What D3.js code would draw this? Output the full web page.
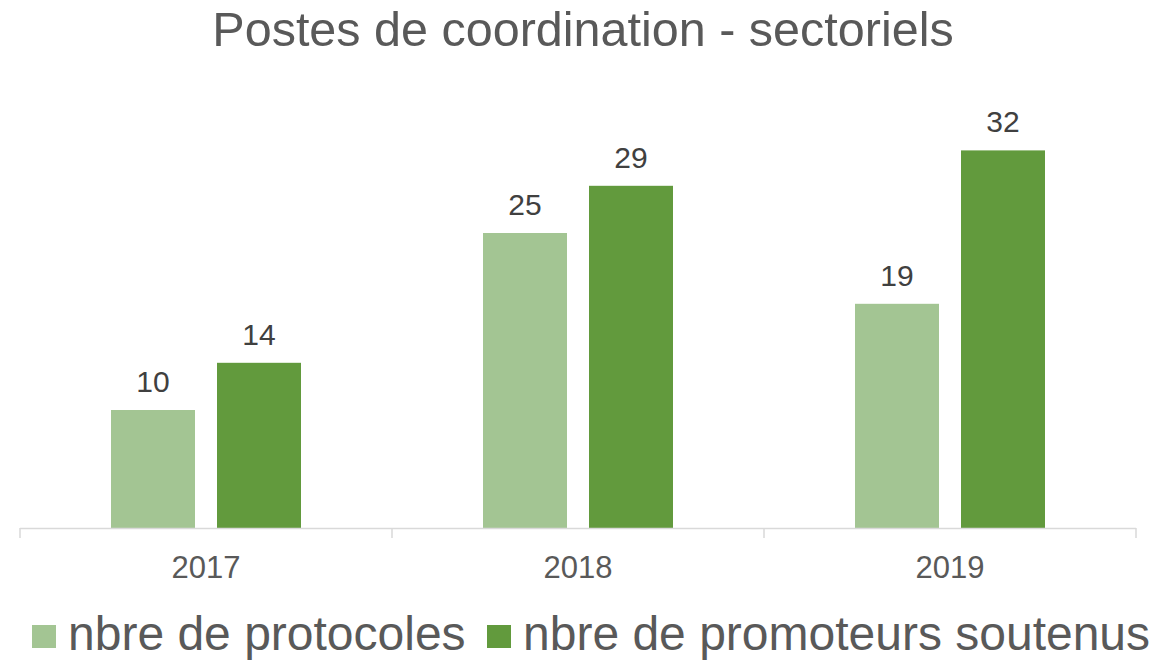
<!DOCTYPE html>
<html>
<head>
<meta charset="utf-8">
<script src="https://cdn.jsdelivr.net/npm/d3@7"></script>
<style>
  body { margin: 0; background: #fff; }
  text { font-family: "Liberation Sans", Arial, sans-serif; }
</style>
</head>
<body>
<svg id="canvas"></svg>
<script>
let years = ['2017', '2018', '2019']
let protocoles = [10, 25, 19]
let promoteurs = [14, 29, 32]
let seriesNames = ['nbre de protocoles', 'nbre de promoteurs soutenus']
let colors = ['#a3c593', '#629a3d']

let width = 1173
let height = 660

let canvas = d3.select('#canvas')
canvas.attr('width', width)
      .attr('height', height)

let rows = years.map((y, i) => ({ year: y, values: [protocoles[i], promoteurs[i]] }))

/*scales*/
let xScale = d3.scaleBand()
               .domain(years)
               .range([20, 1136])

let innerScale = d3.scaleBand()
                   .domain([0, 1])
                   .range([91, 281])
                   .paddingInner(22 / 106)

let yScale = d3.scaleLinear()
               .domain([0, 35])
               .range([528, 115])

/*title*/
canvas.append('text')
      .attr('x', 583)
      .attr('y', 46)
      .attr('text-anchor', 'middle')
      .attr('font-size', 48.5)
      .attr('fill', '#595959')
      .text('Postes de coordination - sectoriels')

/*bars*/
let groups = canvas.selectAll('g.year')
    .data(rows)
    .enter()
    .append('g')
    .attr('class', 'year')
    .attr('transform', (d) => 'translate(' + xScale(d.year) + ',0)')

groups.selectAll('rect')
    .data((d) => d.values)
    .enter()
    .append('rect')
    .attr('x', (v, i) => innerScale(i))
    .attr('y', (v) => yScale(v))
    .attr('width', innerScale.bandwidth())
    .attr('height', (v) => yScale(0) - yScale(v))
    .attr('fill', (v, i) => colors[i])

groups.selectAll('text')
    .data((d) => d.values)
    .enter()
    .append('text')
    .attr('x', (v, i) => innerScale(i) + innerScale.bandwidth() / 2)
    .attr('y', (v) => yScale(v) - 18)
    .attr('text-anchor', 'middle')
    .attr('font-size', 30)
    .attr('fill', '#404040')
    .text((v) => v)

/*axis*/
let axis = canvas.append('g')
    .attr('transform', 'translate(0,' + yScale(0) + ')')
    .call(d3.axisBottom(xScale).tickSize(0).tickPadding(0))
axis.select('.domain').remove()
axis.selectAll('text')
    .attr('y', 50)
    .attr('dy', null)
    .attr('font-size', 31)
    .attr('font-family', '"Liberation Sans", Arial, sans-serif')
    .attr('fill', '#595959')

axis.append('line')
    .attr('x1', 20).attr('x2', 1136)
    .attr('y1', 0.5).attr('y2', 0.5)
    .attr('stroke', '#d9d9d9')
    .attr('stroke-width', 1.5)

let bounds = years.map((y) => xScale(y)).concat([xScale.range()[1]])
axis.selectAll('line.sep')
    .data(bounds)
    .enter()
    .append('line')
    .attr('class', 'sep')
    .attr('x1', (d) => d).attr('x2', (d) => d)
    .attr('y1', 0).attr('y2', 10)
    .attr('stroke', '#d9d9d9')
    .attr('stroke-width', 1.5)

/*legend*/
let legendX = [32, 487]
let legend = canvas.selectAll('g.legend')
    .data(seriesNames)
    .enter()
    .append('g')
    .attr('class', 'legend')
    .attr('transform', (d, i) => 'translate(' + legendX[i] + ',0)')

legend.append('rect')
      .attr('x', 0)
      .attr('y', 625)
      .attr('width', 24)
      .attr('height', 23)
      .attr('fill', (d, i) => colors[i])

legend.append('text')
      .attr('x', 36)
      .attr('y', 650)
      .attr('font-size', 48)
      .attr('fill', '#595959')
      .text((d) => d)
</script>
</body>
</html>
